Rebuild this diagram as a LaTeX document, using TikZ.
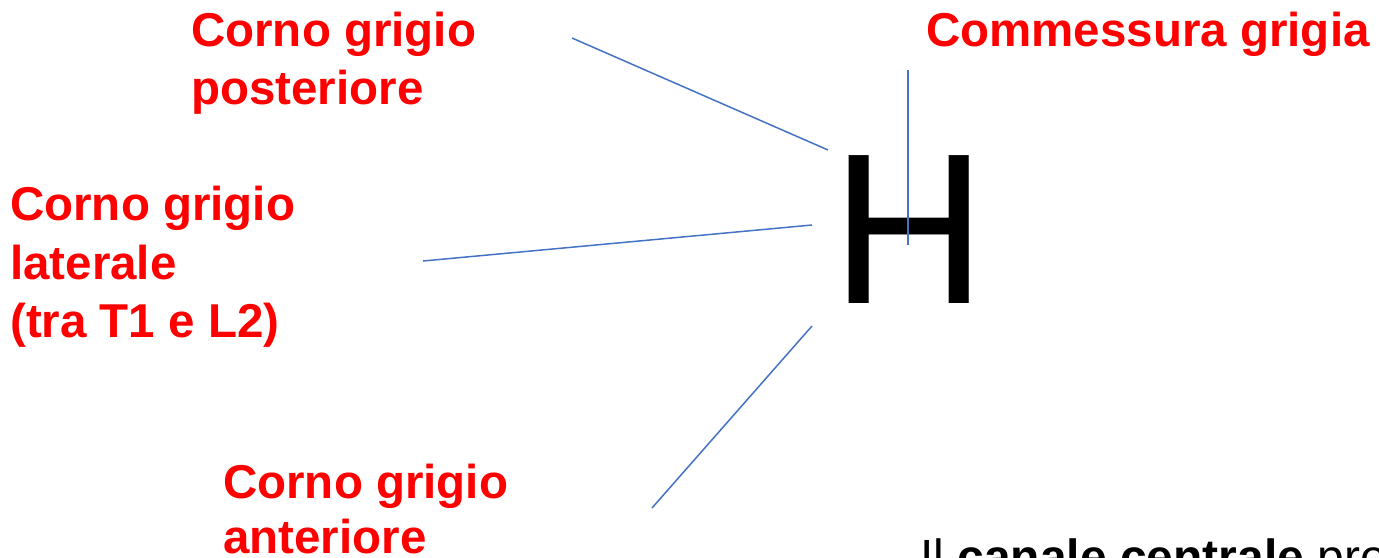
\documentclass[tikz,border=0pt]{standalone}
\usepackage{fontspec}
\setmainfont{Liberation Sans}
\definecolor{labelred}{RGB}{255,0,0}
\definecolor{leaderblue}{RGB}{68,114,196}
\tikzset{
  redlabel/.style={text=labelred, font=\fontsize{47.5}{58.5}\selectfont\bfseries,
    align=left, anchor=base west, inner sep=0pt},
  leader/.style={draw=leaderblue, line width=1.5pt},
}
\begin{document}
\begin{tikzpicture}[x=1pt,y=-1pt]
\useasboundingbox (0,0) rectangle (1379,557);
\clip (0,0) rectangle (1379,557);

% the grey-matter "H"
\node[anchor=base west, inner sep=0pt, font=\fontsize{215}{215}\selectfont] (hletter) at (831,303) {H};

% labels (anchored at the baseline of their last line)
\node[redlabel] (post) at (191,104.5) {Corno grigio\\posteriore};
\node[redlabel] (comm) at (926,46) {Commessura grigia};
\node[redlabel] (lat) at (10,337.5) {Corno grigio\\laterale\\(tra T1 e L2)};
\node[redlabel, font=\fontsize{47.5}{55}\selectfont\bfseries] (ant) at (223,553) {Corno grigio\\anteriore};

% running text below
\node[anchor=base west, inner sep=0pt, font=\fontsize{48}{58}\selectfont] (canal) at (920,573.5)
  {Il \textbf{canale centrale} pre};

% leader line end points
\coordinate (post-a) at (572,38);
\coordinate (post-b) at (828,150);
\coordinate (lat-a) at (423,261);
\coordinate (lat-b) at (812,225);
\coordinate (ant-a) at (652,508);
\coordinate (ant-b) at (812,326);
\coordinate (comm-a) at (908,70);
\coordinate (comm-b) at (908,245);

\draw[leader] (post-a) -- (post-b);
\draw[leader] (lat-a) -- (lat-b);
\draw[leader] (ant-a) -- (ant-b);
\draw[leader] (comm-a) -- (comm-b);
\end{tikzpicture}
\end{document}
